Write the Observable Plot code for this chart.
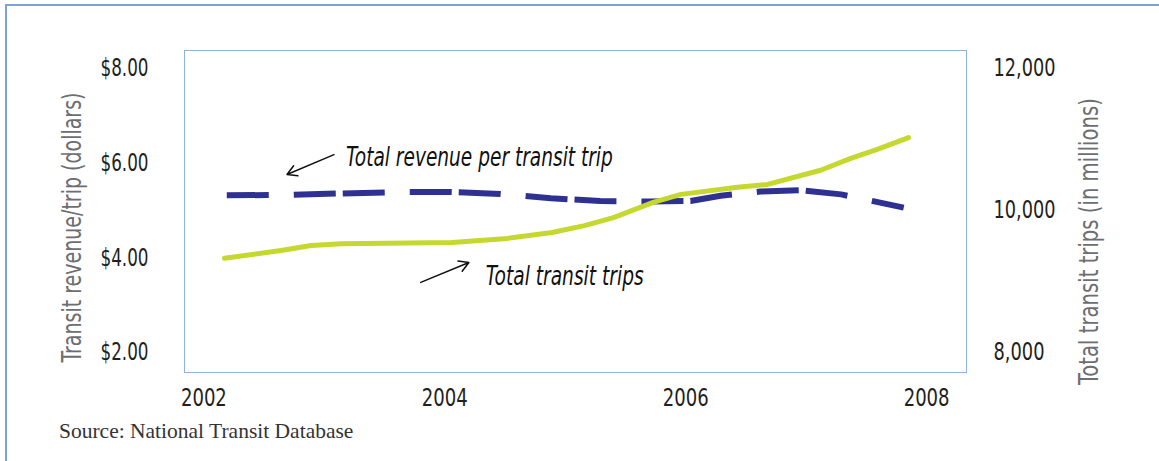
<!DOCTYPE html>
<html>
<head>
<meta charset="utf-8">
<script src="https://cdn.jsdelivr.net/npm/d3@7"></script>
<script src="https://cdn.jsdelivr.net/npm/@observablehq/plot@0.6"></script>
<style>
  html, body { margin: 0; padding: 0; background: #fff; width: 1159px; height: 461px; overflow: hidden; }
  #wrap { position: relative; width: 1159px; height: 461px; }
  #border { position: absolute; left: 5px; top: 4px; width: 1200px; height: 500px;
            border-top: 2px solid #7BA3D6; border-left: 2px solid #7BA3D6; pointer-events: none; }
  #chart svg { display: block; }
  #source { padding-left: 59px; height: 26px; line-height: 26px;
            font-family: "Liberation Serif", "DejaVu Serif", serif; font-size: 21.5px; color: #333; }
</style>
</head>
<body>
<div id="wrap">
  <div id="border"></div>
  <div id="chart"></div>
  <div id="source">Source: National Transit Database</div>
</div>
<script>
// ---- data ----
const revenueYears = [2002.19, 2002.72, 2003.13, 2003.63, 2004.05, 2004.46, 2004.88, 2005.29, 2005.71, 2006.04, 2006.29, 2006.62, 2006.95, 2007.29, 2007.81];
const revenue      = [5.32,    5.33,    5.36,    5.39,    5.39,    5.35,    5.26,    5.20,    5.19,    5.20,    5.31,    5.40,    5.43,    5.34,    5.06];

const tripsYears = [2002.17, 2002.64, 2002.89, 2003.14, 2004.06, 2004.52, 2004.89, 2005.16, 2005.40, 2005.73, 2005.96, 2006.43, 2006.68, 2007.12, 2007.37, 2007.59, 2007.85];
const trips      = [9327,    9437,    9507,    9533,    9549,    9607,    9690,    9787,    9900,    10113,   10227,   10327,   10367,   10567,   10733,   10860,   11027];

const xTicks = [2002, 2004, 2006, 2008];
const leftTicks = [2, 4, 6, 8];
const rightTicks = [8000, 10000, 12000];

const leftTitle = "Transit revenue/trip (dollars)";
const rightTitle = "Total transit trips (in millions)";
const noteTexts = ["Total revenue per transit trip", "Total transit trips"];
const noteYears = [2003.18, 2004.34];
const noteValues = [6.12, 3.61];
const arrowFromYears = [2003.08, 2003.80];
const arrowFromValues = [6.18, 3.48];
const arrowToYears = [2002.69, 2004.20];
const arrowToValues = [5.76, 3.90];

// ---- dual axis relation: trips (millions) <-> dollars scale ----
const toDollars = t => 2 + (t - 8000) * 6 / 4000;
const fromDollars = d => 8000 + (d - 2) * 4000 / 6;

const revData = revenueYears.map((x, i) => ({x, y: revenue[i]}));
const tripData = tripsYears.map((x, i) => ({x, trips: trips[i]}));
const notes = noteTexts.map((text, i) => ({text, x: noteYears[i], y: noteValues[i]}));
const arrows = arrowFromYears.map((x1, i) => ({x1, y1: arrowFromValues[i], x2: arrowToYears[i], y2: arrowToValues[i]}));

const FONT = "'Liberation Sans Narrow', 'DejaVu Sans Condensed', 'Liberation Sans', sans-serif";
const fmtLeft = d => "$" + d.toFixed(2);
const fmtRight = d => d3.format(",")(Math.round(fromDollars(d)));

const plot = Plot.plot({
  width: 1159,
  height: 418,
  marginLeft: 184,
  marginRight: 193,
  marginTop: 50,
  marginBottom: 46,
  style: {fontFamily: FONT, background: "transparent", overflow: "visible", color: "#231F20"},
  x: {domain: [2001.839, 2008.331]},
  y: {domain: [1.577, 8.38]},
  marks: [
    Plot.frame({stroke: "#8DB3E2", strokeWidth: 1}),
    Plot.axisX(xTicks, {tickSize: 0, tickPadding: 16, fontSize: 25, tickFormat: d => String(d), label: null, fill: "#231F20"}),
    Plot.axisY(leftTicks, {anchor: "left", tickSize: 0, tickPadding: 36, fontSize: 25, tickFormat: fmtLeft, label: null, fill: "#231F20"}),
    Plot.axisY(rightTicks.map(toDollars), {anchor: "right", tickSize: 0, tickPadding: 27, fontSize: 25,
      tickFormat: fmtRight, label: null, fill: "#231F20"}),
    Plot.line(revData, {x: "x", y: "y", stroke: "#2E3192", strokeWidth: 6, strokeDasharray: "42,25,42,7", strokeLinecap: "butt"}),
    Plot.line(tripData, {x: "x", y: d => toDollars(d.trips), stroke: "#C5D82F", strokeWidth: 5, strokeLinecap: "round", strokeLinejoin: "round"}),
    Plot.arrow(arrows, {x1: "x1", y1: "y1", x2: "x2", y2: "y2", stroke: "#111", strokeWidth: 1.5, headLength: 11}),
    Plot.text(notes, {x: "x", y: "y", text: "text", textAnchor: "start", fontStyle: "italic", fontSize: 27, fill: "#111"}),
    Plot.text([leftTitle], {text: d => d, frameAnchor: "left", textAnchor: "middle", lineAnchor: "middle", rotate: -90, dx: -112, dy: 16, fontSize: 26, fill: "#6D6E71"}),
    Plot.text([rightTitle], {text: d => d, frameAnchor: "right", textAnchor: "middle", lineAnchor: "middle", rotate: -90, dx: 123, dy: 30, fontSize: 26, fill: "#6D6E71"})
  ]
});

document.getElementById("chart").appendChild(plot);

// condense texts horizontally (the reference uses a condensed face)
const fit = {};
fit[noteTexts[0]] = 267;
fit[noteTexts[1]] = 158;
fit[leftTitle] = 270;
fit[rightTitle] = 287;
leftTicks.forEach(d => fit[fmtLeft(d)] = 48);
rightTicks.forEach(d => fit[d3.format(",")(d)] = d >= 10000 ? 62 : 51);
xTicks.forEach(d => fit[String(d)] = 46);
d3.select(plot).selectAll("text").each(function () {
  const t = this.textContent;
  if (!fit[t]) return;
  const len = this.getComputedTextLength();
  if (!len) return;
  const sx = fit[t] / len;
  const tr = this.getAttribute("transform");
  if (tr) {
    this.setAttribute("transform", tr + ` scale(${sx},1)`);
  } else {
    const x = +this.getAttribute("x") || 0, y = +this.getAttribute("y") || 0;
    this.setAttribute("transform", `translate(${x},${y}) scale(${sx},1) translate(${-x},${-y})`);
  }
});
</script>
</body>
</html>
